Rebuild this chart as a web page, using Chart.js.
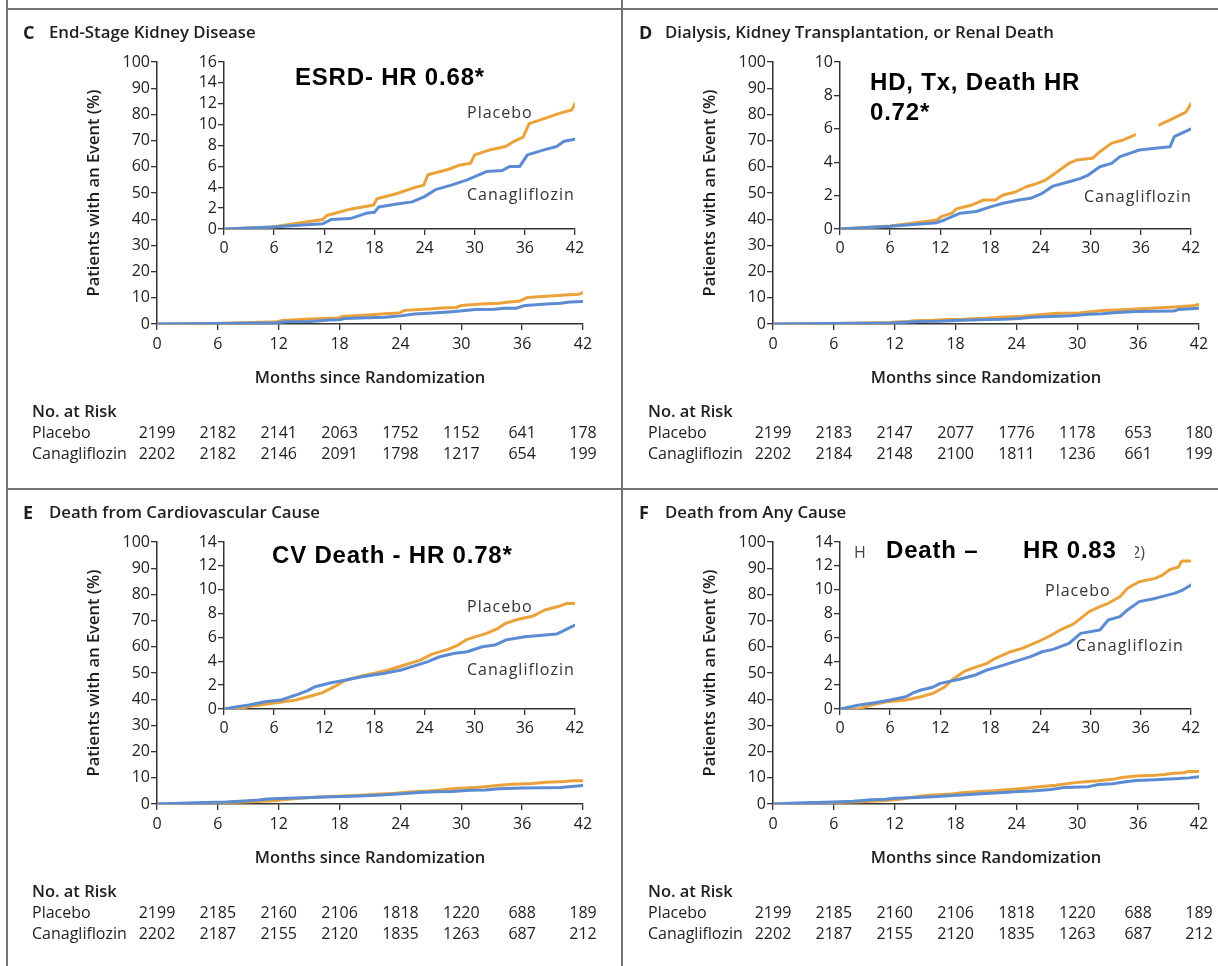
<!DOCTYPE html>
<html>
<head>
<meta charset="utf-8">
<script src="https://cdn.jsdelivr.net/npm/chart.js@4.4.1/dist/chart.umd.min.js"></script>
<style>
  html, body { margin: 0; padding: 0; background: #fff; overflow: hidden; }
  #figure { position: relative; width: 1218px; height: 966px; font-family: 'Open Sans', sans-serif; color: #1e1e1e; }
  .rule { position: absolute; background: #747474; }
  .panel { position: absolute; width: 602px; height: 480px; }
  .panel canvas { position: absolute; }
  .letter { position: absolute; font-weight: 700; font-size: 18px; line-height: 22px; }
  .heading { position: absolute; font-weight: 600; font-size: 16.8px; line-height: 22px; white-space: nowrap; }
  .hr { position: absolute; font-family: 'Liberation Sans', Arial, sans-serif; font-weight: 700; font-size: 24px; line-height: 30px; letter-spacing: 0.8px; color: #000; white-space: nowrap; }
  .curve { position: absolute; font-size: 16px; line-height: 20px; letter-spacing: 1px; color: #333; white-space: nowrap; }
  .ghost { position: absolute; font-size: 16px; line-height: 20px; color: #444; white-space: nowrap; overflow: hidden; height: 20px; }
</style>
</head>
<body>
<div id="figure">
  <div class="rule" style="left:6px; top:0; width:2px; height:966px"></div>
  <div class="rule" style="left:621px; top:0; width:2px; height:966px"></div>
  <div class="rule" style="left:6px; top:8px; width:1212px; height:2px"></div>
  <div class="rule" style="left:6px; top:488px; width:1212px; height:2px"></div>
</div>
<script>
// shared axes
const monthTicks = [0, 6, 12, 18, 24, 30, 36, 42];

// C: end-stage kidney disease (cumulative %, months)
const esrdMonthsPlacebo = [0, 5.8, 11.8, 12.3, 15.1, 17.9, 18.3, 20.7, 22.5, 23.9, 24.4, 26.8, 28.1, 29.5, 30.0, 31.9, 33.7, 34.7, 35.8, 36.5, 38.4, 40.2, 41.6, 42];
const esrdPlacebo = [0, 0.2, 0.9, 1.3, 1.9, 2.3, 2.9, 3.4, 3.9, 4.2, 5.2, 5.7, 6.1, 6.3, 7.1, 7.6, 7.9, 8.4, 8.8, 10.1, 10.6, 11.1, 11.4, 12.0];
const esrdMonthsCana = [0, 5.8, 11.8, 12.8, 15.1, 17.0, 18.0, 18.5, 20.7, 22.5, 24.0, 25.4, 27.2, 29.1, 31.4, 33.3, 34.2, 35.4, 36.3, 38.4, 39.8, 40.7, 42];
const esrdCana = [0, 0.2, 0.5, 0.9, 1.0, 1.5, 1.6, 2.1, 2.4, 2.6, 3.1, 3.8, 4.2, 4.7, 5.5, 5.6, 6.0, 6.0, 7.1, 7.6, 7.9, 8.4, 8.6];
const esrdRiskPlacebo = [2199, 2182, 2141, 2063, 1752, 1152, 641, 178];
const esrdRiskCana = [2202, 2182, 2146, 2091, 1798, 1217, 654, 199];

// D: dialysis, transplantation or renal death
const renalMonthsPlacebo = [0, 6.0, 11.6, 12.1, 13.4, 13.9, 15.8, 17.2, 18.6, 19.5, 20.9, 22.3, 23.6, 24.6, 26.0, 27.4, 28.3, 30.2, 31.1, 32.5, 33.9, 35.3, 38.2, 39.5, 41.4, 42];
const renalPlacebo = [0, 0.18, 0.54, 0.74, 0.95, 1.2, 1.44, 1.74, 1.74, 2.04, 2.2, 2.53, 2.73, 2.93, 3.43, 3.94, 4.13, 4.23, 4.63, 5.14, 5.33, 5.63, 6.23, 6.53, 7.0, 7.5];
const renalMonthsCana = [0, 6.0, 11.6, 12.5, 14.4, 16.3, 18.1, 19.5, 21.4, 22.8, 24.2, 25.5, 27.4, 28.8, 29.7, 31.1, 32.5, 33.5, 34.9, 35.8, 37.7, 39.5, 40.0, 42];
const renalCana = [0, 0.16, 0.38, 0.54, 0.95, 1.05, 1.34, 1.54, 1.74, 1.84, 2.14, 2.57, 2.83, 3.03, 3.23, 3.73, 3.93, 4.33, 4.57, 4.73, 4.83, 4.93, 5.53, 6.0];
const renalRiskPlacebo = [2199, 2183, 2147, 2077, 1776, 1178, 653, 180];
const renalRiskCana = [2202, 2184, 2148, 2100, 1811, 1236, 661, 199];

// E: cardiovascular death
const cvMonthsPlacebo = [0, 1.6, 3.0, 5.8, 8.6, 10.4, 11.8, 13.2, 14.6, 16.5, 18.3, 19.7, 21.6, 23.5, 24.9, 26.8, 28.0, 29.1, 31.4, 32.8, 33.7, 35.1, 37.0, 38.4, 40.2, 41.0, 42];
const cvPlacebo = [0, 0, 0.2, 0.48, 0.75, 1.09, 1.37, 1.87, 2.43, 2.77, 3.04, 3.27, 3.69, 4.1, 4.6, 5.0, 5.36, 5.84, 6.34, 6.76, 7.18, 7.5, 7.8, 8.3, 8.63, 8.85, 8.85];
const cvMonthsCana = [0, 1.6, 3.0, 4.9, 6.8, 8.6, 10.0, 10.9, 12.8, 14.6, 16.5, 19.2, 21.2, 22.5, 24.4, 25.8, 27.6, 29.1, 30.9, 32.4, 33.7, 36.0, 38.4, 39.8, 42];
const cvCana = [0, 0.2, 0.34, 0.61, 0.75, 1.17, 1.54, 1.87, 2.2, 2.43, 2.71, 2.99, 3.27, 3.55, 3.97, 4.38, 4.67, 4.8, 5.22, 5.36, 5.78, 6.06, 6.2, 6.28, 7.04];
const cvRiskPlacebo = [2199, 2185, 2160, 2106, 1818, 1220, 688, 189];
const cvRiskCana = [2202, 2187, 2155, 2120, 1835, 1263, 687, 212];

// F: death from any cause
const acmMonthsPlacebo = [0, 2.3, 3.7, 5.6, 7.9, 9.7, 11.1, 12.5, 13.4, 14.8, 15.8, 17.6, 18.6, 20.4, 21.8, 23.7, 25.1, 26.5, 27.9, 28.8, 29.8, 31.1, 32.1, 33.5, 34.4, 35.8, 37.7, 38.6, 39.5, 40.5, 40.9, 42];
const acmPlacebo = [0, 0, 0.34, 0.61, 0.75, 1.03, 1.31, 1.82, 2.43, 3.13, 3.41, 3.83, 4.25, 4.8, 5.08, 5.64, 6.12, 6.68, 7.12, 7.6, 8.16, 8.58, 8.86, 9.41, 10.12, 10.67, 10.95, 11.23, 11.7, 11.9, 12.4, 12.4];
const acmMonthsCana = [0, 2.3, 4.2, 6.0, 7.9, 8.8, 9.7, 11.1, 12.0, 14.3, 16.2, 17.6, 19.0, 20.9, 22.8, 24.2, 25.5, 27.4, 28.8, 31.1, 32.1, 33.5, 34.4, 35.8, 37.7, 40.0, 41.0, 42];
const acmCana = [0, 0.34, 0.53, 0.75, 1.03, 1.37, 1.59, 1.82, 2.15, 2.49, 2.85, 3.27, 3.55, 3.97, 4.39, 4.8, 5.0, 5.5, 6.34, 6.62, 7.46, 7.74, 8.3, 9.0, 9.27, 9.69, 9.97, 10.4];
const acmRiskPlacebo = [2199, 2185, 2160, 2106, 1818, 1220, 688, 189];
const acmRiskCana = [2202, 2187, 2155, 2120, 1835, 1263, 687, 212];

const PLACEBO = '#eca23a';
const CANA = '#5b8bd3';
const AXIS = '#333';

Chart.defaults.font.family = "'Open Sans', sans-serif";
Chart.defaults.color = '#222';
Chart.defaults.animation = false;

const panels = [
  {
    letter: 'C', title: 'End-Stage Kidney Disease', x: 0, y: 0,
    placebo: [esrdMonthsPlacebo, esrdPlacebo], cana: [esrdMonthsCana, esrdCana],
    insetMax: 16, risk: [esrdRiskPlacebo, esrdRiskCana],
    hr: [{ text: 'ESRD- HR 0.68*', left: 295, cy: 77 }],
    labels: [{ text: 'Placebo', left: 467, cy: 112 }, { text: 'Canagliflozin', left: 467, cy: 194 }]
  },
  {
    letter: 'D', title: 'Dialysis, Kidney Transplantation, or Renal Death', x: 616, y: 0,
    placebo: [renalMonthsPlacebo, renalPlacebo], cana: [renalMonthsCana, renalCana],
    insetMax: 10, risk: [renalRiskPlacebo, renalRiskCana],
    hr: [{ text: 'HD, Tx, Death HR', left: 254, cy: 82 }, { text: '0.72*', left: 254, cy: 112 }],
    labels: [{ text: 'Canagliflozin', left: 468, cy: 196 }],
    masks: [{ from: 35.4, to: 38.1, low: 5.15, high: 7.6 }]
  },
  {
    letter: 'E', title: 'Death from Cardiovascular Cause', x: 0, y: 480,
    placebo: [cvMonthsPlacebo, cvPlacebo], cana: [cvMonthsCana, cvCana],
    insetMax: 14, risk: [cvRiskPlacebo, cvRiskCana],
    hr: [{ text: 'CV Death - HR 0.78*', left: 272, cy: 75 }],
    labels: [{ text: 'Placebo', left: 467, cy: 126 }, { text: 'Canagliflozin', left: 467, cy: 189 }]
  },
  {
    letter: 'F', title: 'Death from Any Cause', x: 616, y: 480,
    placebo: [acmMonthsPlacebo, acmPlacebo], cana: [acmMonthsCana, acmCana],
    insetMax: 14, risk: [acmRiskPlacebo, acmRiskCana],
    hr: [{ text: 'Death \u2013', left: 270, cy: 70 }, { text: 'HR 0.83', left: 407, cy: 70 }],
    labels: [{ text: 'Placebo', left: 429, cy: 110 }, { text: 'Canagliflozin', left: 460, cy: 165 }],
    ghosts: [{ text: 'H', left: 238, cy: 72, width: 12 }, { text: '2)', left: 519, cy: 72, width: 10, clipLeft: true }]
  }
];

function toPoints(months, pct) {
  return months.map((m, i) => ({ x: m, y: pct[i] }));
}

function curve(label, pair, color) {
  return {
    label, data: toPoints(pair[0], pair[1]), borderColor: color, borderWidth: 3,
    pointRadius: 0, tension: 0, fill: false, borderJoinStyle: 'round', borderCapStyle: 'round'
  };
}

function axis(min, max, step, pad, extra) {
  return Object.assign({
    type: 'linear', min, max,
    ticks: { stepSize: step, autoSkip: false, padding: pad, color: '#222', font: { size: 16 } },
    grid: { drawOnChartArea: false, tickLength: 6, color: AXIS, lineWidth: 1.3 },
    border: { color: AXIS, width: 1.5 }
  }, extra);
}

// "No. at Risk" table under the main axis, one number per month tick
const riskTable = {
  id: 'riskTable',
  afterDraw(chart, args, opts) {
    if (!opts.rows) return;
    const { ctx } = chart;
    const xs = chart.scales.x;
    ctx.save();
    ctx.fillStyle = '#1e1e1e';
    ctx.textBaseline = 'middle';
    ctx.textAlign = 'left';
    ctx.font = "600 16.5px 'Open Sans'";
    ctx.fillText('No. at Risk', 22, 372);
    ctx.font = "16px 'Open Sans'";
    opts.rows.forEach((row, i) => {
      const y = 393 + i * 21;
      ctx.textAlign = 'left';
      ctx.fillText(row.label, 22, y);
      ctx.textAlign = 'center';
      row.values.forEach((v, j) => ctx.fillText(String(v), xs.getPixelForValue(monthTicks[j]), y));
    });
    ctx.restore();
  }
};

// white boxes laid over parts of a curve
const maskBoxes = {
  id: 'maskBoxes',
  afterDatasetsDraw(chart, args, opts) {
    if (!opts.boxes) return;
    const { ctx, scales: { x, y } } = chart;
    ctx.save();
    ctx.fillStyle = '#fff';
    opts.boxes.forEach(b => {
      const x0 = x.getPixelForValue(b.from), x1 = x.getPixelForValue(b.to);
      const y0 = y.getPixelForValue(b.high), y1 = y.getPixelForValue(b.low);
      ctx.fillRect(x0, y0, x1 - x0, y1 - y0);
    });
    ctx.restore();
  }
};

function addText(parent, cls, text, left, cy, lineH) {
  const el = document.createElement('div');
  el.className = cls;
  el.textContent = text;
  el.style.left = left + 'px';
  el.style.top = (cy - lineH / 2) + 'px';
  parent.appendChild(el);
  return el;
}

const fig = document.getElementById('figure');

panels.forEach(p => {
  const box = document.createElement('div');
  box.className = 'panel';
  box.style.left = p.x + 'px';
  box.style.top = p.y + 'px';
  fig.appendChild(box);

  const mainCanvas = document.createElement('canvas');
  mainCanvas.width = 590; mainCanvas.height = 430;
  mainCanvas.style.left = '10px'; mainCanvas.style.top = '40px';
  box.appendChild(mainCanvas);

  const insetCanvas = document.createElement('canvas');
  insetCanvas.width = 415; insetCanvas.height = 214;
  insetCanvas.style.left = '180px'; insetCanvas.style.top = '45px';
  box.appendChild(insetCanvas);

  const datasets = () => [curve('Canagliflozin', p.cana, CANA), curve('Placebo', p.placebo, PLACEBO)];

  new Chart(mainCanvas, {
    type: 'line',
    data: { datasets: datasets() },
    plugins: [riskTable],
    options: {
      responsive: false,
      layout: { padding: { left: 0, top: 22, right: 17, bottom: 70 } },
      plugins: {
        legend: { display: false }, tooltip: { enabled: false },
        riskTable: { rows: [{ label: 'Placebo', values: p.risk[0] }, { label: 'Canagliflozin', values: p.risk[1] }] }
      },
      scales: {
        x: axis(0, 42, 6, 5, {
          title: { display: true, text: 'Months since Randomization', color: '#1e1e1e', font: { size: 16.5, weight: '600' }, padding: { top: 0, bottom: 12 } },
          afterFit: s => { s.height = 76; }
        }),
        y: axis(0, 100, 10, 1, {
          title: { display: true, text: 'Patients with an Event (%)', color: '#1e1e1e', font: { size: 16.5, weight: '600' }, padding: { top: 74, bottom: 0 } },
          afterFit: s => { s.width = 147; }
        })
      }
    }
  });

  new Chart(insetCanvas, {
    type: 'line',
    data: { datasets: datasets() },
    plugins: [maskBoxes],
    options: {
      responsive: false,
      layout: { padding: { left: 0, top: 17, right: 20, bottom: 0 } },
      plugins: { legend: { display: false }, tooltip: { enabled: false }, maskBoxes: { boxes: p.masks } },
      scales: {
        x: axis(0, 42, 6, 4, { afterFit: s => { s.height = 30; } }),
        y: axis(0, p.insetMax, 2, 1, { afterFit: s => { s.width = 44; } })
      }
    }
  });

  addText(box, 'letter', p.letter, 23, 32, 22);
  addText(box, 'heading', p.title, 49, 32, 22);
  p.hr.forEach(h => addText(box, 'hr', h.text, h.left, h.cy, 30));
  p.labels.forEach(l => addText(box, 'curve', l.text, l.left, l.cy, 20));
  (p.ghosts || []).forEach(g => {
    const el = addText(box, 'ghost', '', g.left, g.cy, 20);
    el.style.width = g.width + 'px';
    const span = document.createElement('span');
    span.textContent = g.text;
    span.style.position = 'absolute';
    span.style[g.clipLeft ? 'right' : 'left'] = '0';
    el.appendChild(span);
  });
});
</script>
</body>
</html>
